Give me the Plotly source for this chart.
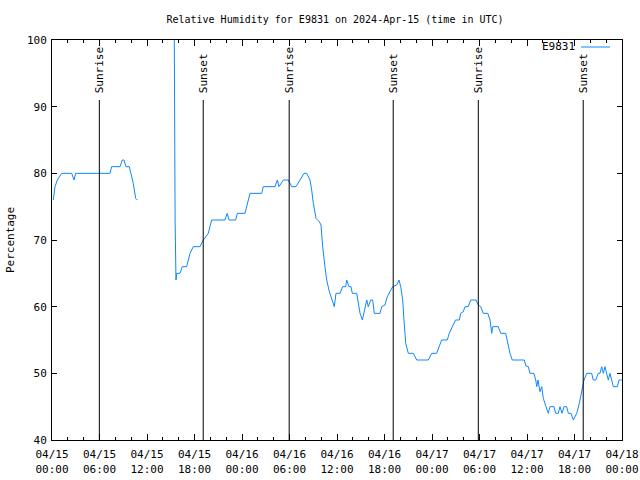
import plotly.graph_objects as go
import pandas as pd

# hours since 2024-04-15 00:00 UTC, None value = gap in data
hours = [0.16, 0.38, 0.67, 1.23, 2.49, 2.78, 2.99, 7.33, 7.54, 8.59, 8.88, 9.09, 9.35, 9.76,
         10.27, 10.57, 10.78,
         13.0,
         15.45, 15.46, 15.55, 15.66, 15.75, 16.17, 16.46, 17.01, 17.43, 17.85, 18.69, 19.11,
         19.74, 20.17, 21.85, 22.14, 22.36, 23.2, 23.41, 24.38, 25.01, 26.49, 26.69, 28.17,
         28.46, 28.67, 29.22, 29.85, 30.28, 30.82, 31.33, 31.83, 32.17, 32.59, 32.8, 33.01,
         33.35, 33.76, 33.98, 34.19, 34.48, 34.7, 35.03, 35.33, 35.66, 35.87, 36.38, 36.72,
         37.1, 37.22, 37.52, 37.77, 37.93, 38.49, 38.69, 38.91, 39.2, 39.54, 39.76, 39.95,
         40.26, 40.51, 40.71, 41.43, 41.65, 42.06, 42.35, 42.69, 43.04, 43.54, 43.83, 44.05,
         44.3, 44.46, 44.68, 45.01, 45.64, 46.07, 47.53, 47.96, 48.59, 49.22, 49.93, 50.18,
         50.61, 50.97, 51.45, 51.62, 51.95, 52.17, 52.58, 52.89, 53.56, 53.85, 54.15, 54.48,
         55.04, 55.33, 55.54, 55.67, 56.37, 56.68, 57.31, 57.64, 57.85, 58.14, 59.66, 59.87,
         60.16, 60.38, 60.88, 61.1, 61.23, 61.39, 61.64, 61.86, 62.06, 62.4, 62.69, 62.9,
         63.41, 63.62, 63.95, 64.17, 64.42, 64.67, 65.01, 65.22, 65.56, 65.85, 66.28, 66.61,
         66.91, 67.2, 67.54, 68.17, 68.37, 68.68, 69.01, 69.22, 69.43, 69.64, 69.85, 70.07,
         70.27, 70.48, 70.7, 70.9, 71.41, 71.62, 71.96]
humidity = [76, 78, 79, 80, 80, 79, 80, 80, 81, 81, 82, 82, 81, 81,
            78.5, 76.25, 76,
            None,
            100, 91, 73, 64, 65, 65, 66, 66, 68, 69, 69, 70,
            71, 73, 73, 74, 73, 73, 74, 74, 77, 77, 78, 78,
            79, 78, 79, 79, 78, 78, 79, 80, 80, 79, 77.5, 75.5,
            73.25, 72.75, 72.25, 69, 66, 64, 62.25, 61.25, 60, 62, 62, 63,
            63, 64, 63, 63, 62, 62, 60.25, 59, 58, 60, 61, 60,
            61, 61, 59, 59, 60, 60.25, 61.5, 62.25, 63, 63.25, 64, 63,
            61, 58, 54.5, 53, 53, 52, 52, 53, 53, 55, 55, 56,
            57, 58, 58, 59, 59.25, 60, 60, 61, 61, 60.25, 60, 59,
            59, 58, 56, 57, 57, 56, 56, 54, 53, 52, 52, 51.1,
            51, 50, 50, 49, 48, 49, 47.25, 48, 46.25, 45, 44, 45,
            45, 44, 44, 45, 44, 45, 45, 44, 44, 43, 44, 45.5,
            47.5, 49, 50, 50, 49, 49, 50, 50, 51, 50, 51, 50,
            49, 50, 49, 48, 48, 49, 49]

sunrise_hours = [5.98, 29.96, 53.85]
sunset_hours = [19.1, 43.1, 67.1]

series_name = "E9831"
title_text = "Relative Humidity for E9831 on 2024-Apr-15 (time in UTC)"

base = pd.Timestamp("2024-04-15 00:00")
times = [base + pd.to_timedelta(h, unit="h") for h in hours]

FONT = "DejaVu Sans Mono"
FS = 10
BLUE = "#0F87FF"

L, R, T, B = 52, 18, 40, 40
PW, PH = 640 - L - R, 480 - T - B


def px_x(px):
    return (px - L) / PW


def px_y(py):
    return 1 - (py - T) / PH


fig = go.Figure()
fig.add_trace(go.Scatter(x=times, y=humidity, mode="lines", name=series_name,
                         line=dict(color=BLUE, width=1), connectgaps=False,
                         showlegend=False))

for label, hs in (("Sunrise", sunrise_hours), ("Sunset", sunset_hours)):
    for h in hs:
        t = base + pd.to_timedelta(h, unit="h")
        fig.add_shape(type="line", x0=t, x1=t, y0=0, y1=0.85, xref="x", yref="paper",
                      line=dict(color="black", width=1))
        fig.add_annotation(x=t, y=0.85, xref="x", yref="paper", text=label, textangle=-90,
                           showarrow=False, xanchor="center", yanchor="bottom", yshift=5,
                           font=dict(family=FONT, size=FS + 1, color="black"))

# legend drawn manually (text left of sample line)
fig.add_annotation(x=px_x(577), y=px_y(47), xref="paper", yref="paper", text=series_name,
                   showarrow=False, xanchor="right", yanchor="middle",
                   font=dict(family=FONT, size=FS + 1, color="black"))
fig.add_shape(type="line", x0=px_x(581), x1=px_x(610), y0=px_y(47), y1=px_y(47),
              xref="paper", yref="paper", line=dict(color=BLUE, width=1))

fig.update_layout(
    width=640, height=480,
    margin=dict(l=L, r=R, t=T, b=B, autoexpand=False),
    paper_bgcolor="white", plot_bgcolor="white",
    font=dict(family=FONT, size=FS, color="black"),
    title=dict(text=title_text, x=335 / 640, xanchor="center", y=1 - 19 / 480,
               yanchor="middle", font=dict(family=FONT, size=FS, color="black")),
    showlegend=False,
)

fig.update_xaxes(
    type="date", automargin=False,
    range=[base, base + pd.Timedelta(hours=72)],
    tick0=base, dtick=6 * 3600 * 1000, tickformat="%m/%d<br>%H:%M",
    ticks="inside", ticklen=6, tickcolor="black", tickwidth=1,
    ticklabelstandoff=4,
    minor=dict(dtick=2 * 3600 * 1000, tick0=base, ticks="inside", ticklen=3,
               tickcolor="black", showgrid=False),
    showline=True, linecolor="black", linewidth=1, mirror="ticks",
    showgrid=False, zeroline=False,
    tickfont=dict(family=FONT, size=FS + 1, color="black"),
)
fig.update_yaxes(
    automargin=False,
    range=[40, 100], tick0=40, dtick=10,
    ticks="inside", ticklen=5, tickcolor="black", tickwidth=1,
    ticklabelstandoff=2,
    showline=True, linecolor="black", linewidth=1, mirror="ticks",
    showgrid=False, zeroline=False,
    title=dict(text="Percentage", standoff=10, font=dict(family=FONT, size=FS + 1, color="black")),
    tickfont=dict(family=FONT, size=FS + 1, color="black"),
)

fig.write_html("out.html")
